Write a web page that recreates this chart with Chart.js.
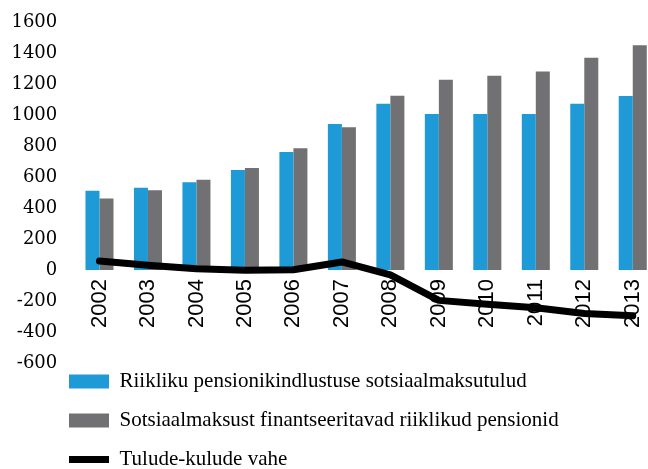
<!DOCTYPE html>
<html>
<head>
<meta charset="utf-8">
<script src="https://cdn.jsdelivr.net/npm/chart.js@4.4.0/dist/chart.umd.min.js"></script>
<style>
    html, body { margin: 0; padding: 0; overflow: hidden; background: #fff; }
    .chart-box { position: relative; width: 657px; height: 469px; }
</style>
</head>
<body>
<div class="chart-box"><canvas id="pensionChart"></canvas></div>
<script>
const years = ['2002', '2003', '2004', '2005', '2006', '2007', '2008', '2009', '2010', '2011', '2012', '2013'];
const sotsiaalmaksuTulud = [512, 530, 566, 645, 762, 942, 1072, 1006, 1006, 1006, 1072, 1122];
const pensionid = [461, 514, 582, 658, 786, 921, 1124, 1228, 1254, 1280, 1370, 1450];
const tuludeKuludeVahe = [58, 30, 8, -2, 2, 52, -32, -196, -221, -243, -281, -295];
const yTickValues = [-600, -400, -200, 0, 200, 400, 600, 800, 1000, 1200, 1400, 1600];

// legend rows sit a bit higher and further right than chart.js puts them
const legendShift = {
    id: 'legendShift',
    afterLayout(chart) {
        chart.legend.top -= 10;
        chart.legend.bottom -= 10;
        chart.legend.left += 51;
        chart.legend.right += 51;
    }
};

const ctx = document.getElementById('pensionChart').getContext('2d');

new Chart(ctx, {
    type: 'bar',
    data: {
        labels: years,
        datasets: [{
            label: 'Riikliku pensionikindlustuse sotsiaalmaksutulud',
            data: sotsiaalmaksuTulud,
            backgroundColor: '#1E9AD6',
            borderWidth: 0,
            barPercentage: 1,
            categoryPercentage: 0.578,
            pointStyle: 'rect',
            order: 1
        }, {
            label: 'Sotsiaalmaksust finantseeritavad riiklikud pensionid',
            data: pensionid,
            backgroundColor: '#717173',
            borderWidth: 0,
            barPercentage: 1,
            categoryPercentage: 0.578,
            pointStyle: 'rect',
            order: 1
        }, {
            type: 'line',
            label: 'Tulude-kulude vahe',
            data: tuludeKuludeVahe,
            borderColor: '#000',
            backgroundColor: '#000',
            borderWidth: 7,
            borderCapStyle: 'round',
            borderJoinStyle: 'round',
            pointRadius: 0,
            pointStyle: 'line',
            tension: 0,
            fill: false,
            order: 0
        }]
    },
    options: {
        responsive: true,
        maintainAspectRatio: false,
        animation: false,
        layout: {
            padding: { top: 22, left: 0, right: 0, bottom: -21 }
        },
        plugins: {
            tooltip: { enabled: false },
            legend: {
                position: 'bottom',
                align: 'start',
                labels: {
                    usePointStyle: true,
                    pointStyleWidth: 40,
                    boxHeight: 14,
                    padding: 18,
                    color: '#000',
                    font: { family: 'Liberation Serif', size: 21 },
                    sort: (a, b) => a.datasetIndex - b.datasetIndex
                }
            }
        },
        scales: {
            x: {
                type: 'category',
                axis: 'x',
                position: { y: 0 },
                offset: true,
                grid: { display: false, drawTicks: false },
                border: { display: false },
                ticks: {
                    autoSkip: false,
                    minRotation: 90,
                    maxRotation: 90,
                    padding: 9,
                    color: '#000',
                    font: { family: 'Liberation Sans', size: 22 }
                },
                afterFit(scale) {
                    scale.paddingLeft = 0;
                    scale.paddingRight = 0;
                }
            },
            y: {
                min: yTickValues[0],
                max: yTickValues[yTickValues.length - 1],
                grid: { display: false, drawTicks: false },
                border: { display: false },
                ticks: {
                    stepSize: 200,
                    padding: 18,
                    color: '#000',
                    font: { family: 'DejaVu Serif', size: 18 },
                    callback: value => yTickValues.includes(value) ? String(value) : ''
                },
                afterFit(scale) {
                    scale.width = 75.25;
                    scale.paddingTop = 0;
                    scale.paddingBottom = 0;
                }
            }
        }
    },
    plugins: [legendShift]
});
</script>
</body>
</html>
